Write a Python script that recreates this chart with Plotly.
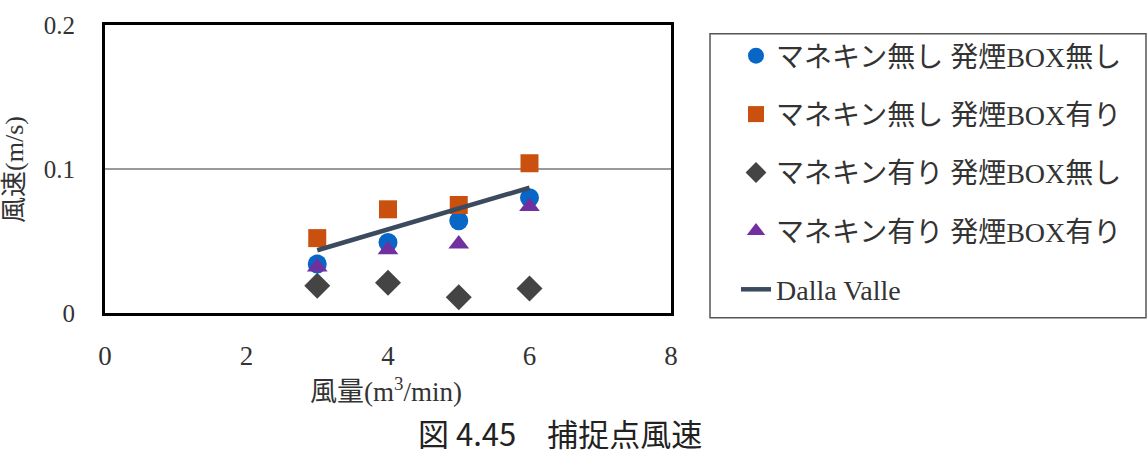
import plotly.graph_objects as go

W, H = 1148, 459
x_vals = [3, 4, 5, 6]
s1_name = "マネキン無し 発煙BOX無し"
s2_name = "マネキン無し 発煙BOX有り"
s3_name = "マネキン有り 発煙BOX無し"
s4_name = "マネキン有り 発煙BOX有り"
s5_name = "Dalla Valle"
s1_vals = [0.034, 0.049, 0.064, 0.080]
s2_vals = [0.052, 0.072, 0.075, 0.104]
s3_vals = [0.019, 0.021, 0.011, 0.017]
s4_vals = [0.032, 0.044, 0.048, 0.074]
dv_vals = [0.0436, 0.058, 0.0725, 0.087]
x_ticks = [0, 2, 4, 6, 8]
y_ticks = [0, 0.1, 0.2]
y_tick_text = ["0", "0.1", "0.2"]

SERIF = "Liberation Serif, Noto Sans CJK JP"
TXT = "#333333"

ml, mr, mt, mb = 105, 1148 - 671, 15, 459 - 313
pw = W - ml - mr
ph = H - mt - mb

fig = go.Figure()
fig.add_trace(go.Scatter(x=x_vals, y=s1_vals, name=s1_name, mode="markers", legendgroup="a",
                         marker=dict(symbol="circle", size=19, color="#0866C6")))
fig.add_trace(go.Scatter(x=x_vals, y=s2_vals, name=s2_name, mode="markers", legendgroup="b",
                         marker=dict(symbol="square", size=18, color="#C9500F")))
fig.add_trace(go.Scatter(x=x_vals, y=s3_vals, name=s3_name, mode="markers", legendgroup="c",
                         marker=dict(symbol="diamond", size=20, color="#444444")))
fig.add_trace(go.Scatter(x=x_vals, y=s4_vals, name=s4_name, mode="markers", legendgroup="d",
                         marker=dict(symbol="triangle-up", size=18, color="#7030A0")))
fig.add_trace(go.Scatter(x=x_vals, y=dv_vals, name=s5_name, mode="lines", legendgroup="e",
                         line=dict(color="#3B4A5E", width=4.5)))

def px_x(p):
    return (p - ml) / pw

def px_y(p):
    return (H - mb - p) / ph

fig.update_layout(
    width=W, height=H,
    margin=dict(l=ml, r=mr, t=mt, b=mb),
    paper_bgcolor="white", plot_bgcolor="white",
    showlegend=True,
    legend=dict(xref="container", yref="container", x=736 / W, y=1 - 31 / H,
                xanchor="left", yanchor="top", font=dict(family=SERIF, size=28, color=TXT),
                bgcolor="rgba(0,0,0,0)", borderwidth=0, tracegroupgap=19,
                traceorder="grouped", maxheight=420),
    xaxis=dict(range=[0, 8], tickvals=x_ticks, showgrid=False, zeroline=False,
               showline=True, mirror=True, linecolor="black", linewidth=3,
               ticks="", ticklabelstandoff=17,
               tickfont=dict(family=SERIF, size=27, color=TXT)),
    yaxis=dict(range=[0, 0.2], tickvals=y_ticks, ticktext=y_tick_text, showgrid=True,
               gridcolor="#999999", gridwidth=1.5, zeroline=False,
               showline=True, mirror=True, linecolor="black", linewidth=3,
               ticks="", ticklabelstandoff=22,
               tickfont=dict(family=SERIF, size=25, color=TXT)),
    shapes=[dict(type="rect", xref="paper", yref="paper",
                 x0=px_x(710), x1=px_x(1146), y0=px_y(318), y1=px_y(24),
                 line=dict(color="#555555", width=1.5), fillcolor="rgba(0,0,0,0)")],
    annotations=[
        dict(text="風速(m/s)", xref="paper", yref="paper", x=px_x(15), y=px_y(165),
             textangle=-90, showarrow=False, xanchor="center", yanchor="middle",
             font=dict(family=SERIF, size=26, color=TXT)),
        dict(text="風量(m<sup>3</sup>/min)", xref="paper", yref="paper", x=px_x(386), y=px_y(393),
             showarrow=False, xanchor="center", yanchor="middle",
             font=dict(family=SERIF, size=27, color=TXT)),
        dict(text="図 4.45　捕捉点風速", xref="paper", yref="paper", x=px_x(560), y=px_y(437),
             showarrow=False, xanchor="center", yanchor="middle",
             font=dict(family="Noto Sans CJK JP", size=31, color="#222222")),
    ],
)

fig.write_html("out.html")
